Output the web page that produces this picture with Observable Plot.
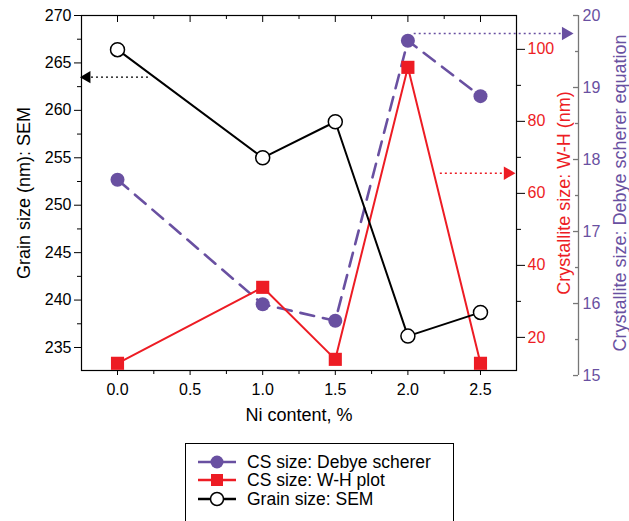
<!DOCTYPE html>
<html>
<head>
<meta charset="utf-8">
<script src="https://cdn.jsdelivr.net/npm/d3@7"></script>
<script src="https://cdn.jsdelivr.net/npm/@observablehq/plot@0.6"></script>
<style>
  html, body { margin: 0; padding: 0; background: #fff; }
  #wrap { position: relative; width: 629px; height: 521px; overflow: hidden; font-family: "Liberation Sans", Arial, Helvetica, sans-serif; }
  #legend { position: absolute; left: 185px; top: 443px; width: 269px; height: 100px; border: 1.5px solid #000; box-sizing: border-box; background: #fff; }
  .row { position: absolute; left: 12px; height: 18px; display: flex; align-items: center; font-size: 17.5px; line-height: 18px; color: #000; white-space: nowrap; }
  .row svg { margin-right: 11px; flex: none; }
</style>
</head>
<body>
<div id="wrap">
  <div id="chart"></div>
  <div id="legend"></div>
</div>
<script>
// ---- data ----
const niContent   = [0, 1, 1.5, 2, 2.5];
const debyeSize   = [17.72, 15.99, 15.76, 19.65, 18.88];   // right-most axis (15–20)
const whSize      = [12.8, 33.9, 13.9, 95.0, 12.8];        // red axis (nm)
const semSize     = [266.4, 255.0, 258.8, 236.2, 238.7];   // left axis (nm)

const xTicks      = [0, 0.5, 1, 1.5, 2, 2.5];
const xMinorTicks = [0.25, 0.75, 1.25, 1.75, 2.25];
const semTicks    = [235, 240, 245, 250, 255, 260, 265, 270];
const semMinor    = [237.5, 242.5, 247.5, 252.5, 257.5, 262.5, 267.5];
const whTicks     = [20, 40, 60, 80, 100];
const whMinor     = [30, 50, 70, 90];
const debyeTicks  = [15, 16, 17, 18, 19, 20];
const debyeMinor  = [15.5, 16.5, 17.5, 18.5, 19.5];

const seriesNames = ["CS size: Debye scherer", "CS size: W-H plot", "Grain size: SEM"];
const purple = "#6950A1", red = "#ED1C24", black = "#000";

// annotation arrows (data units of their own axes)
const semArrow   = {x1: 0.21, x2: -0.19, y: 263.5};
const whArrow    = {x1: 2.22, x2: 2.66, y: 65.6};
const debyeArrow = {x1: 2.04, x2: 3.06, y: 19.75};

// ---- scales ----
const W = 629, H = 440, mL = 81, mR = 113, mT = 15, mB = 70;
const xDom = [-0.248, 2.748];
const semDom = [232.575, 270];
const whDom = [10.8, 109.4];
const debyeDom = [15.07, 20];
const plotH = H - mT - mB, plotW = W - mL - mR;
const whToY = v => semDom[0] + (v - whDom[0]) / (whDom[1] - whDom[0]) * (semDom[1] - semDom[0]);
const yToWh = y => whDom[0] + (y - semDom[0]) / (semDom[1] - semDom[0]) * (whDom[1] - whDom[0]);
const debyeToY = v => semDom[0] + (v - debyeDom[0]) / (debyeDom[1] - debyeDom[0]) * (semDom[1] - semDom[0]);
const xPx = (xDom[1] - xDom[0]) / plotW;      // x units per pixel
const yPx = (semDom[1] - semDom[0]) / plotH;  // y units per pixel
const debyeAxisX = xDom[1] + 62 * xPx;

const rows = niContent.map((x, i) => ({x, sem: semSize[i], wh: whSize[i], debye: debyeSize[i]}));

const FONT = '"Liberation Sans", Arial, Helvetica, sans-serif';
const chart = Plot.plot({
  width: W, height: H,
  marginLeft: mL, marginRight: mR, marginTop: mT, marginBottom: mB,
  style: {fontFamily: FONT, fontSize: "16px", background: "#fff", color: "#000", overflow: "visible"},
  x: {domain: xDom},
  y: {domain: semDom},
  marks: [
    Plot.frame({stroke: "#000", strokeWidth: 1.2}),
    // left axis
    Plot.axisY({anchor: "left", ticks: semTicks, tickSize: 7, tickPadding: 3, label: null, fontSize: 16}),
    Plot.axisY({anchor: "left", ticks: semMinor, tickSize: 4, tickFormat: () => "", label: null}),
    // bottom axis
    Plot.axisX({anchor: "bottom", ticks: xTicks, tickSize: 5, tickPadding: 8, tickFormat: d3.format(".1f"), label: null, fontSize: 16}),
    Plot.axisX({anchor: "bottom", ticks: xMinorTicks, tickSize: 4, tickFormat: () => "", label: null}),
    // top inward ticks
    Plot.ruleX(xTicks, {x: d => d, y1: semDom[1], y2: semDom[1] - 7 * yPx, stroke: "#000"}),
    Plot.ruleX(xMinorTicks, {x: d => d, y1: semDom[1], y2: semDom[1] - 4 * yPx, stroke: "#000"}),
    // W-H axis (red labels)
    Plot.axisY({anchor: "right", ticks: whTicks.map(whToY), tickSize: 8, tickPadding: 3, stroke: "#000", fill: red,
      tickFormat: y => String(Math.round(yToWh(y))), label: null, fontSize: 16}),
    Plot.axisY({anchor: "right", ticks: whMinor.map(whToY), tickSize: 4, stroke: "#000", tickFormat: () => "", label: null}),
    // Debye axis (outer right)
    Plot.ruleX([debyeAxisX], {x: d => d, y1: debyeToY(15), y2: debyeToY(20), stroke: "#777", strokeWidth: 1.3}),
    Plot.ruleY(debyeTicks, {y: debyeToY, x1: debyeAxisX - 5 * xPx, x2: debyeAxisX, stroke: "#777", strokeWidth: 1.3}),
    Plot.ruleY(debyeMinor, {y: debyeToY, x1: debyeAxisX - 3 * xPx, x2: debyeAxisX, stroke: "#777", strokeWidth: 1.3}),
    Plot.text(debyeTicks, {x: debyeAxisX + 4 * xPx, y: debyeToY, text: d => String(d), textAnchor: "start", fill: purple, fontSize: 16}),
    // axis titles
    Plot.text(["Grain size (nm): SEM"], {frameAnchor: "left", dx: -57, rotate: -90, textAnchor: "middle", fontSize: 18, fill: "#000"}),
    Plot.text(["Crystallite size: W-H (nm)"], {frameAnchor: "right", dx: 48, rotate: -90, textAnchor: "middle", fontSize: 18, fill: red}),
    Plot.text(["Crystallite size: Debye scherer equation"], {frameAnchor: "right", dx: 104, rotate: -90, textAnchor: "middle", fontSize: 18, fill: purple}),
    Plot.text(["Ni content, %"], {frameAnchor: "bottom", dy: 50, textAnchor: "middle", fontSize: 18, fill: "#000"}),
    // annotation arrows
    Plot.link([semArrow], {x1: "x1", x2: "x2", y1: "y", y2: "y", stroke: "#000", strokeWidth: 1.4, strokeDasharray: "2,3"}),
    Plot.dot([semArrow], {x: d => d.x2 - 3 * xPx, y: "y", symbol: "triangle", r: 4.5, rotate: -90, fill: "#000", stroke: "none"}),
    Plot.link([whArrow], {x1: "x1", x2: "x2", y1: d => whToY(d.y), y2: d => whToY(d.y), stroke: red, strokeWidth: 1.4, strokeDasharray: "2,3"}),
    Plot.dot([whArrow], {x: d => d.x2 + 4 * xPx, y: d => whToY(d.y), symbol: "triangle", r: 5, rotate: 90, fill: red, stroke: "none"}),
    Plot.link([debyeArrow], {x1: "x1", x2: "x2", y1: d => debyeToY(d.y), y2: d => debyeToY(d.y), stroke: purple, strokeWidth: 1.4, strokeDasharray: "2,3"}),
    Plot.dot([debyeArrow], {x: d => d.x2 + 4 * xPx, y: d => debyeToY(d.y), symbol: "triangle", r: 5, rotate: 90, fill: purple, stroke: "none"}),
    // series
    Plot.line(rows, {x: "x", y: d => debyeToY(d.debye), stroke: purple, strokeWidth: 2.6, strokeDasharray: "14,9"}),
    Plot.line(rows, {x: "x", y: d => whToY(d.wh), stroke: red, strokeWidth: 2}),
    Plot.line(rows, {x: "x", y: "sem", stroke: black, strokeWidth: 2}),
    Plot.dot(rows, {x: "x", y: d => debyeToY(d.debye), r: 7, fill: purple, stroke: "none"}),
    Plot.dot(rows, {x: "x", y: d => whToY(d.wh), r: 7.4, symbol: "square", fill: red, stroke: "none"}),
    Plot.dot(rows, {x: "x", y: "sem", r: 7, fill: "#fff", stroke: black, strokeWidth: 1.5})
  ]
});
document.getElementById("chart").appendChild(chart);

// legend
const legend = document.getElementById("legend");
const styles = [
  {stroke: purple, marker: "circle", fill: purple},
  {stroke: red, marker: "square", fill: red},
  {stroke: black, marker: "circle", fill: "#fff"}
];
const tops = [8.5, 27, 45.5];
seriesNames.forEach((name, i) => {
  const s = styles[i];
  const row = document.createElement("div");
  row.className = "row";
  row.style.top = tops[i] + "px";
  const mk = s.marker === "circle"
    ? `<circle cx="19" cy="9" r="6.5" fill="${s.fill}" stroke="${i === 2 ? '#000' : 'none'}" stroke-width="1.5"/>`
    : `<rect x="13" y="3" width="12" height="12" fill="${s.fill}"/>`;
  row.innerHTML = `<svg width="38" height="18"><line x1="0" y1="9" x2="38" y2="9" stroke="${s.stroke}" stroke-width="2.5"/>${mk}</svg><span>${name}</span>`;
  legend.appendChild(row);
});
</script>
</body>
</html>
